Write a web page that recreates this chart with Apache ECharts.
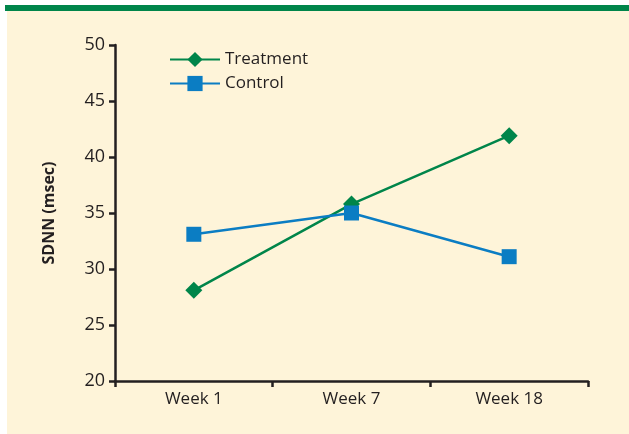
<!DOCTYPE html>
<html lang="en">
<head>
<meta charset="UTF-8">
<title>SDNN</title>
<script src="https://cdn.jsdelivr.net/npm/echarts@6/dist/echarts.min.js"></script>
<style>
  html, body { margin: 0; padding: 0; background: #fff; }
</style>
</head>
<body>
<div id="main" style="width:629px;height:434px;"></div>
<script type="text/javascript">
  var categories = ['Week 1', 'Week 7', 'Week 18'];
  var treatment = [28.1, 35.8, 41.9];
  var control = [33.1, 35.0, 31.1];

  var green = '#00854a';
  var blue = '#0b7dc3';
  var ink = '#231f20';
  var font = "'Liberation Sans Narrow', 'Open Sans', sans-serif";

  var myChart = echarts.init(document.getElementById('main'));

  myChart.setOption({
    animation: false,
    backgroundColor: '#fff',
    graphic: [
      // cream panel
      { type: 'rect', z: -10, shape: { x: 7, y: 5, width: 622, height: 429 }, style: { fill: '#fef4d9' } },
      // green top band
      { type: 'rect', z: -9, shape: { x: 5, y: 5, width: 624, height: 6 }, style: { fill: green } }
    ],
    legend: {
      orient: 'vertical',
      left: 164,
      top: 46,
      itemWidth: 50,
      itemHeight: 19,
      itemGap: 7,
      textStyle: { fontFamily: font, fontSize: 17, color: ink },
      data: ['Treatment', 'Control']
    },
    grid: { left: 115, right: 41, top: 45, bottom: 53 },
    xAxis: {
      type: 'category',
      data: categories,
      boundaryGap: true,
      axisLine: { lineStyle: { color: ink, width: 2.5 } },
      axisTick: { show: true, interval: 0, alignWithLabel: false, length: 6, lineStyle: { color: ink, width: 2.5 } },
      axisLabel: { color: ink, fontFamily: font, fontSize: 17, margin: 10 }
    },
    yAxis: {
      type: 'value',
      min: 20,
      max: 50,
      interval: 5,
      name: 'SDNN (msec)',
      nameLocation: 'middle',
      nameGap: 58,
      nameTextStyle: { color: ink, fontFamily: font, fontSize: 16, fontWeight: 'bold' },
      splitLine: { show: false },
      axisLine: { show: true, lineStyle: { color: ink, width: 2.5 } },
      axisTick: { show: true, length: 6, lineStyle: { color: ink, width: 2.5 } },
      axisLabel: { color: ink, fontFamily: font, fontSize: 18, margin: 10 }
    },
    series: [
      {
        name: 'Treatment',
        type: 'line',
        data: treatment,
        symbol: 'diamond',
        symbolSize: 17,
        itemStyle: { color: green },
        lineStyle: { color: green, width: 2.5 }
      },
      {
        name: 'Control',
        type: 'line',
        data: control,
        symbol: 'rect',
        symbolSize: 15,
        itemStyle: { color: blue },
        lineStyle: { color: blue, width: 2.5 }
      }
    ]
  });
</script>
</body>
</html>
